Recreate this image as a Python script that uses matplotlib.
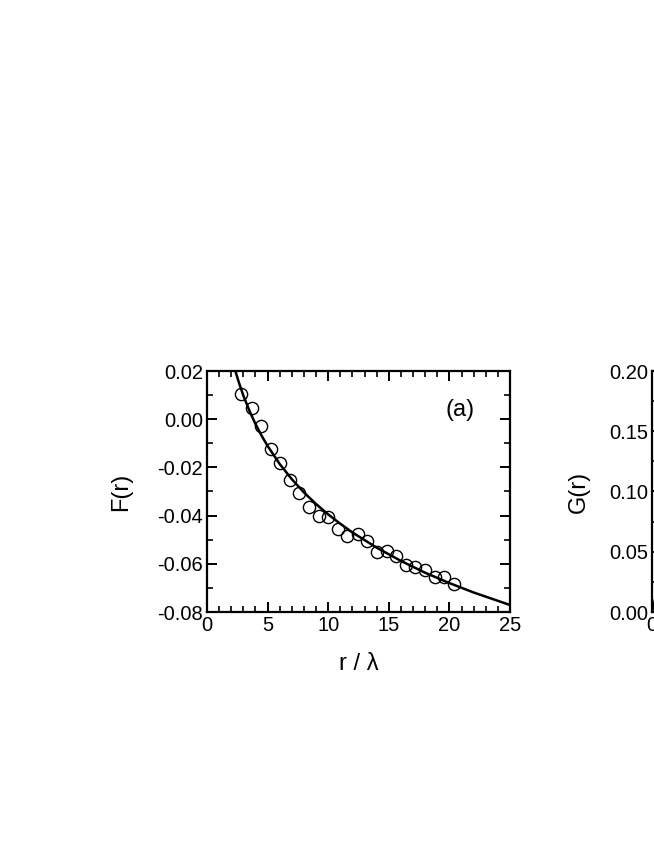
"""Two-panel correlation plot: F(r) with fit (a), G(r) panel (b) cut off at the right edge."""

import matplotlib

matplotlib.use("Agg")
import matplotlib.pyplot as plt  # noqa: E402
from matplotlib.ticker import MultipleLocator  # noqa: E402

# panel (a): simulation points
r_pts = [2.80, 3.68, 4.48, 5.27, 6.04, 6.87, 7.61, 8.41, 9.20, 9.97, 10.80, 11.59,
         12.42, 13.24, 14.01, 14.84, 15.60, 16.43, 17.20, 18.02, 18.82, 19.59, 20.38]
f_pts = [0.0104, 0.0046, -0.0027, -0.0123, -0.0181, -0.0254, -0.0305, -0.0364, -0.0401,
         -0.0407, -0.0456, -0.0485, -0.0478, -0.0506, -0.0552, -0.0547, -0.0566, -0.0605,
         -0.0612, -0.0625, -0.0653, -0.0656, -0.0684]

# panel (a): fitted curve
r_fit = [2.3, 2.6, 3.0, 3.5, 4.0, 4.5, 5.0, 6.0, 7.0, 8.0, 9.0, 10.0, 11.0, 12.0,
         14.0, 16.0, 18.0, 20.0, 22.0, 25.0]
f_fit = [0.0207, 0.0157, 0.0098, 0.0035, -0.0020, -0.0068, -0.0111, -0.0186, -0.0249,
         -0.0304, -0.0352, -0.0395, -0.0434, -0.0470, -0.0533, -0.0588, -0.0637, -0.0680,
         -0.0719, -0.0771]

# panel (b): only the very start is visible
r_b = [0.0, 0.15, 0.3]
g_b = [0.0, 0.006, 0.013]

plt.rcParams["font.family"] = ["Liberation Sans", "DejaVu Sans"]

W, H = 654, 846
fig = plt.figure(figsize=(W / 100, H / 100), dpi=100)


def px_axes(x0, y0, x1, y1):
    return fig.add_axes([x0 / W, 1 - y1 / H, (x1 - x0) / W, (y1 - y0) / H])


def style(ax):
    for s in ax.spines.values():
        s.set_linewidth(1.6)
    ax.tick_params(which="both", direction="in", top=True, right=True,
                   labelsize=14.5, pad=3)
    ax.tick_params(which="major", length=7, width=1.4)
    ax.tick_params(which="minor", length=4, width=1.2)


ax1 = px_axes(207, 371, 510, 612)
ax1.plot(r_fit, f_fit, color="black", lw=1.8)
ax1.plot(r_pts, f_pts, "o", ms=8.8, mfc="none", mec="black", mew=1.0)
ax1.set_xlim(0, 25)
ax1.set_ylim(-0.08, 0.02)
ax1.xaxis.set_major_locator(MultipleLocator(5))
ax1.xaxis.set_minor_locator(MultipleLocator(1))
ax1.yaxis.set_major_locator(MultipleLocator(0.02))
ax1.yaxis.set_minor_locator(MultipleLocator(0.01))
ax1.yaxis.set_major_formatter(lambda v, p: f"{v:.2f}".replace("-0.00", "0.00"))
ax1.set_xlabel("r / λ", fontsize=17, labelpad=13)
ax1.set_ylabel("F(r)", fontsize=17, labelpad=18)
ax1.text(0.835, 0.84, "(a)", transform=ax1.transAxes, fontsize=17,
         ha="center", va="center")
style(ax1)

ax2 = px_axes(652, 371, 955, 612)
ax2.plot(r_b, g_b, color="black", lw=1.8)
ax2.set_xlim(0, 25)
ax2.set_ylim(0, 0.20)
ax2.xaxis.set_major_locator(MultipleLocator(5))
ax2.xaxis.set_minor_locator(MultipleLocator(1))
ax2.yaxis.set_major_locator(MultipleLocator(0.05))
ax2.yaxis.set_minor_locator(MultipleLocator(0.025))
ax2.yaxis.set_major_formatter(lambda v, p: f"{v:.2f}")
ax2.set_ylabel("G(r)", fontsize=17, labelpad=14)
style(ax2)

fig.savefig("out.png", dpi=100)
